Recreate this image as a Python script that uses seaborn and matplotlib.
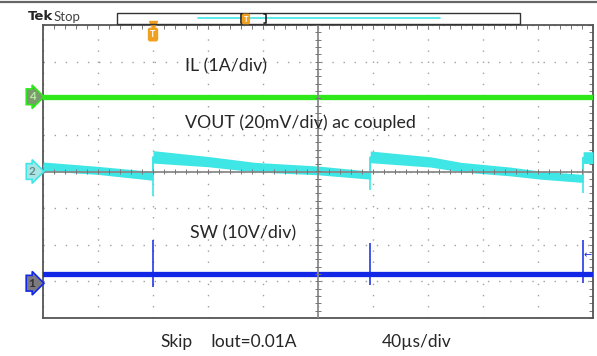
import matplotlib
matplotlib.use('Agg')
import matplotlib.pyplot as plt
import seaborn as sns
import numpy as np
from matplotlib.patches import Rectangle
from matplotlib.lines import Line2D
from matplotlib.ticker import MultipleLocator

# traces, in scope divisions (x: 0..10 div, y: -4..4 div from screen centre)
il_t = [0, 10]
il_y = [2.04, 2.04]

vout_t = [0, 1.0, 2.0, 2.0, 3.0, 3.85, 5.0, 5.95, 5.95, 7.05, 7.6, 8.5, 9.05, 9.82, 9.82, 10]
vout_y = [0.14, 0.03, -0.12, 0.40, 0.27, 0.12, 0.03, -0.10, 0.40, 0.26, 0.12, 0.0, -0.10, -0.19, 0.38, 0.38]
vout_hw = [0.12, 0.11, 0.12, 0.17, 0.14, 0.13, 0.12, 0.11, 0.16, 0.14, 0.13, 0.12, 0.11, 0.11, 0.16, 0.16]
vout_spike_t = [2.0, 5.95, 9.82]
vout_spike_lo = [-0.67, -0.50, -0.60]

sw_t = [0, 10]
sw_y = [-2.79, -2.79]
sw_spike_t = [2.0, 5.95, 9.82]
sw_spike_hi = [-1.87, -1.95, -1.87]
sw_spike_lo = [-3.16, -3.10, -3.05]

ch_labels = ['4', '2', '1']
ch_levels = [2.04, 0.0, -3.05]

GREEN = '#2ee81a'
CYAN = '#3fe6e6'
BLUE = '#1228e6'
ORANGE = '#f0a020'

sns.set_style('white')
plt.rcParams['font.family'] = ['Lato', 'DejaVu Sans']

W, H = 597, 356
fig = plt.figure(figsize=(W / 100, H / 100), dpi=100)


def px(x, y):
    return x / W, 1 - y / H


ax = fig.add_axes([43 / W, 38 / H, 550 / W, 293 / H])
ax.set_xlim(0, 10)
ax.set_ylim(-4, 4)

# graticule
ax.set_xticks(range(11))
ax.set_yticks(range(-4, 5))
ax.xaxis.set_minor_locator(MultipleLocator(0.2))
ax.yaxis.set_minor_locator(MultipleLocator(0.2))
ax.grid(True, which='major', color='#a0a0a0', linestyle=(0, (1, 7)), linewidth=1.0)
ax.tick_params(which='both', direction='in', top=True, right=True, length=3,
               width=0.7, color='#777', labelbottom=False, labelleft=False)
for s in ax.spines.values():
    s.set_color('#555')
    s.set_linewidth(1.3)
ax.axhline(0, color='#8a8a8a', lw=1.3, zorder=6)
ax.axvline(5, color='#8a8a8a', lw=1.3, zorder=6)
ticks = np.arange(0, 10.01, 0.2)
ax.vlines(ticks, -0.07, 0.07, color='#777', lw=0.7, zorder=6)
ticks_v = np.arange(-4, 4.01, 0.2)
ax.hlines(ticks_v, 4.94, 5.06, color='#777', lw=0.7, zorder=6)

# IL trace
sns.lineplot(x=il_t, y=il_y, ax=ax, color=GREEN, lw=3.8, estimator=None, sort=False, zorder=4)

# VOUT trace
vy = np.array(vout_y)
vh = np.array(vout_hw)
ax.fill_between(vout_t, vy - vh, vy + vh, color=CYAN, lw=0, zorder=4)
sns.lineplot(x=vout_t, y=vout_y, ax=ax, color=CYAN, lw=1, estimator=None, sort=False, zorder=4)
ax.vlines(vout_spike_t, vout_spike_lo, [0.4] * len(vout_spike_t), color=CYAN, lw=1.2, zorder=4)

# SW trace
sns.lineplot(x=sw_t, y=sw_y, ax=ax, color=BLUE, lw=3.8, estimator=None, sort=False, zorder=4)
ax.vlines(sw_spike_t, sw_spike_lo, sw_spike_hi, color=BLUE, lw=1.1, zorder=4)

# channel markers
ch_style = [
    dict(fc='#7b9a6c', ec=GREEN, tc='#b8e8a8'),
    dict(fc='#a8e6e6', ec=CYAN, tc='#6a8a8a'),
    dict(fc='#7a7a80', ec=BLUE, tc='#303030'),
]
for lab, lev, st in zip(ch_labels, ch_levels, ch_style):
    ax.text(-0.2, lev, lab, ha='center', va='center', fontsize=8.5, fontweight='bold',
            color=st['tc'], clip_on=False, zorder=8,
            bbox=dict(boxstyle='rarrow,pad=0.2', fc=st['fc'], ec=st['ec'], lw=1.2))

# trigger marker
ax.plot([2.0], [4.0], marker='v', ms=6, color=ORANGE, clip_on=False, zorder=8)
ax.text(2.0, 3.74, 'T', ha='center', va='center', fontsize=6.5, fontweight='bold', color='white',
        zorder=8, bbox=dict(boxstyle='round,pad=0.2', fc=ORANGE, ec=ORANGE))
ax.text(9.97, -2.28, '\u2190', ha='right', va='center', fontsize=7, color=BLUE, zorder=8,
        family='DejaVu Sans')

# annotations
ax.text(2.58, 2.86, 'IL (1A/div)', fontsize=12.8, va='center', zorder=9)
ax.text(2.58, 1.33, 'VOUT (20mV/div) ac coupled', fontsize=12.8, va='center', zorder=9)
ax.text(2.67, -1.68, 'SW (10V/div)', fontsize=12.8, va='center', zorder=9)

fig.text(*px(160, 342), 'Skip', fontsize=12.5, va='center')
fig.text(*px(210, 342), 'Iout=0.01A', fontsize=12.5, va='center')
fig.text(*px(382, 342), '40\u00b5s/div', fontsize=12.5, va='center')

# header bar
fig.add_artist(Line2D([0, 1], [px(0, 2)[1]] * 2, color='#666', lw=1.6))
fig.text(*px(28, 17), 'Tek', fontsize=9.5, fontweight='bold', va='center', family='DejaVu Sans')
fig.text(*px(54, 17), 'Stop', fontsize=9.5, color='#444', va='center')
x0, y0 = px(117, 24)
fig.add_artist(Rectangle((x0, y0), 403 / W, 11 / H, transform=fig.transFigure,
                         fill=False, ec='#333', lw=1))
fig.add_artist(Line2D([px(198, 0)[0], px(440, 0)[0]], [px(0, 18)[1]] * 2, color=CYAN, lw=1.2))
for bx, dx in [(241, 2), (266, -2)]:
    fig.add_artist(Line2D([px(bx + dx, 0)[0], px(bx, 0)[0], px(bx, 0)[0], px(bx + dx, 0)[0]],
                          [px(0, 14)[1], px(0, 14)[1], px(0, 23)[1], px(0, 23)[1]], color='#222', lw=1.2))
fig.text(*px(246, 19), 'T', fontsize=5.5, fontweight='bold', color='white', ha='center', va='center',
         bbox=dict(boxstyle='round,pad=0.15', fc=ORANGE, ec=ORANGE))

fig.savefig('out.png', dpi=100)
